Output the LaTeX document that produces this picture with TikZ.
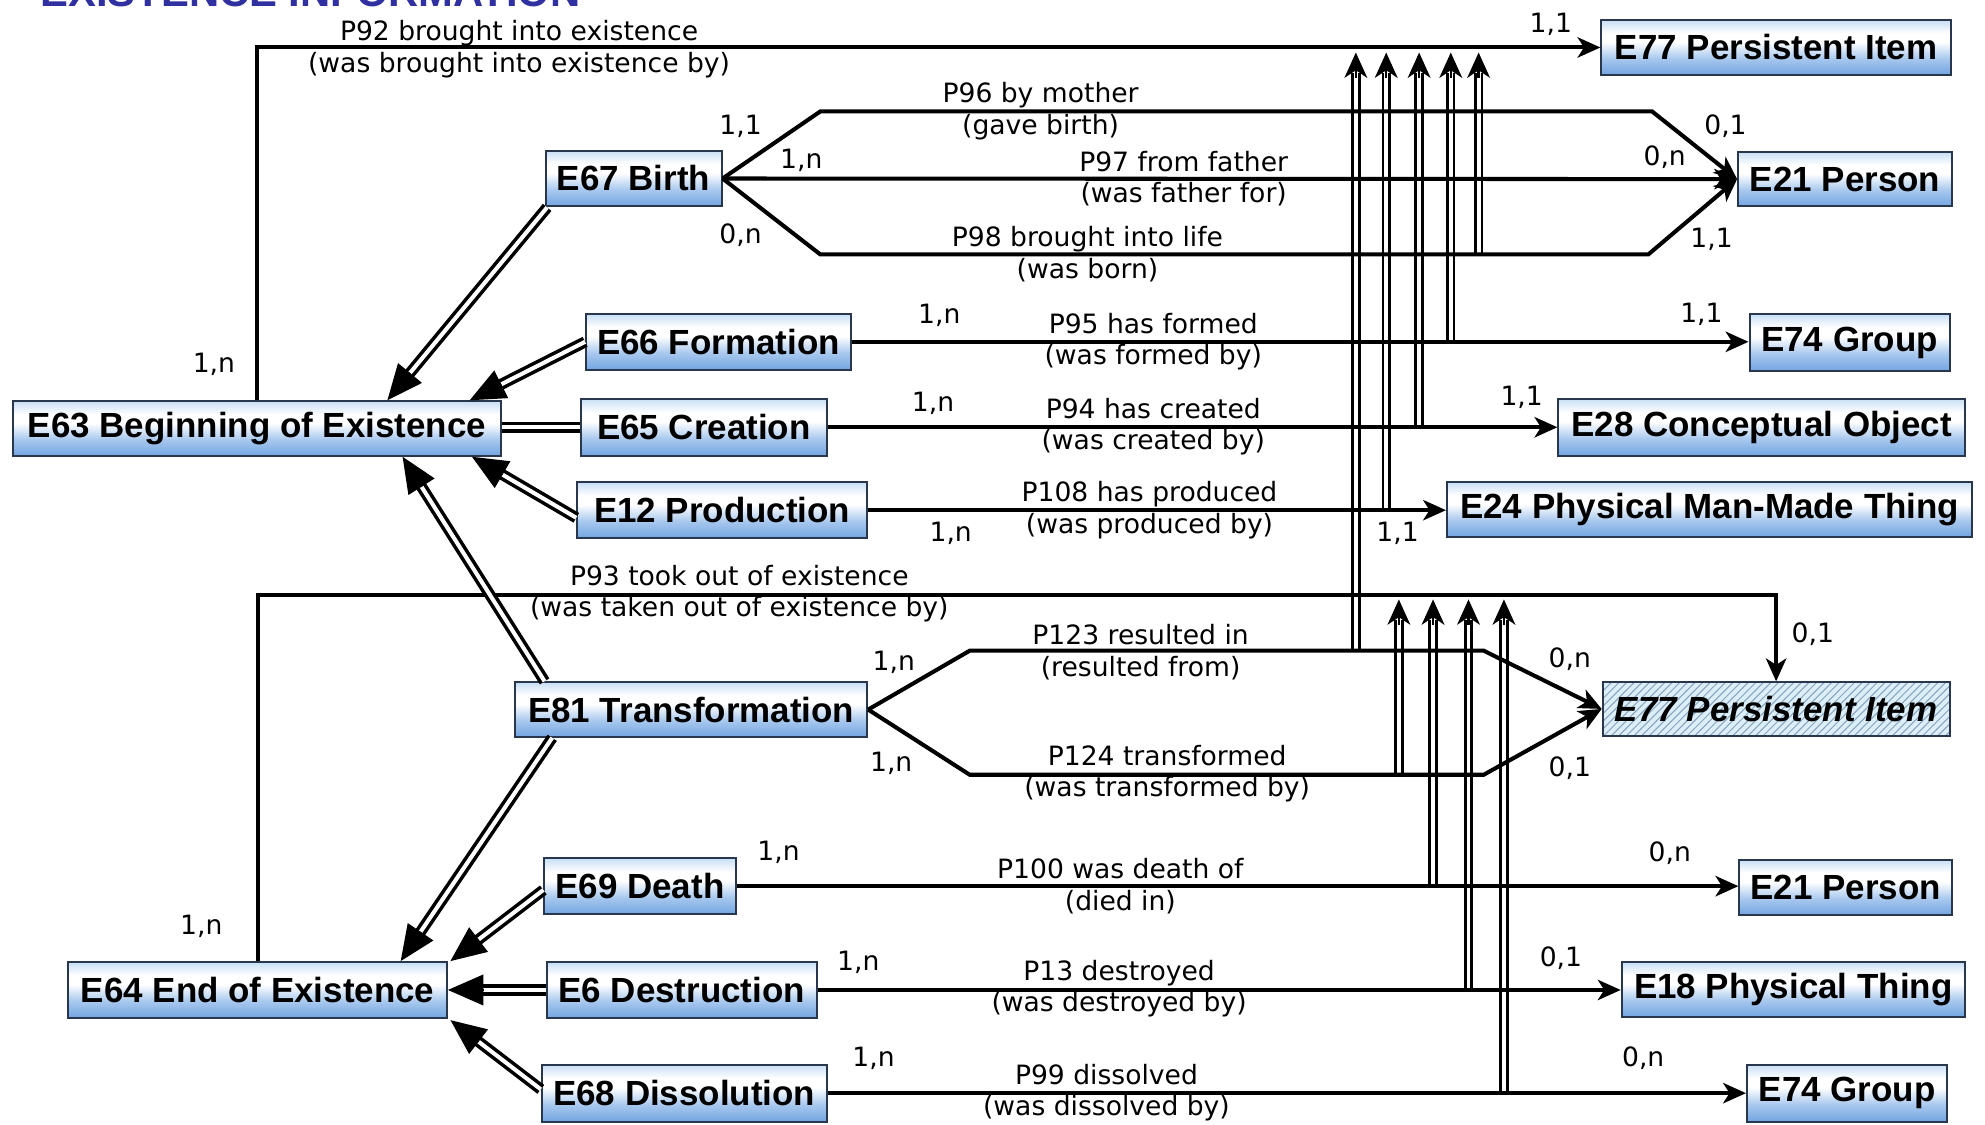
\documentclass[tikz,border=0pt]{standalone}
\usepackage{fontspec}
\setmainfont{Liberation Sans}
\newfontfamily\lblfont{DejaVu Sans}
\usetikzlibrary{arrows.meta,calc,patterns}
\definecolor{titleblue}{RGB}{48,48,160}
\definecolor{boxline}{RGB}{40,55,75}
\definecolor{bA}{RGB}{115,165,225}
\definecolor{bB}{RGB}{168,200,238}
\definecolor{bC}{RGB}{200,222,245}
\definecolor{hatchbg}{RGB}{220,238,248}
\definecolor{hatchln}{RGB}{135,165,190}
\pgfdeclareverticalshading{boxshade}{100bp}{color(0bp)=(bA); color(25bp)=(bA); color(40bp)=(bB); color(55bp)=(white); color(63bp)=(white); color(75bp)=(bC); color(100bp)=(bC)}
\begin{document}
\begin{tikzpicture}[x=0.5pt,y=-0.5pt,
  ent/.style={draw=boxline, line width=0.8pt, shading=boxshade, inner sep=0pt,
    font=\fontsize{13.8}{16}\selectfont\bfseries, text=black},
  enthatch/.style={draw=boxline, line width=0.8pt, preaction={fill=hatchbg},
    pattern=north east lines, pattern color=hatchln, inner sep=0pt,
    font=\fontsize{13.8}{16}\selectfont\bfseries\itshape, text=black},
  lbl/.style={font=\lblfont\fontsize{10.5}{12.5}\selectfont, align=center, inner sep=0pt},
  card/.style={font=\lblfont\fontsize{10.5}{12.5}\selectfont, inner sep=0pt},
  conn/.style={line width=1.6pt, -{Stealth[length=9pt,width=8pt,inset=2.5pt]}},
  subp/.style={double, double distance=1.5pt, line width=1.1pt, shorten >=8pt},
  subtip/.style={line width=1pt, -{Stealth[length=10pt,width=9pt,inset=3pt]}},
  inh/.style={double, double distance=1.6pt, line width=1.4pt, shorten >=12pt},
  inhplain/.style={double, double distance=1.6pt, line width=1.4pt},
  inhtip/.style={line width=1pt, -{Triangle[length=14pt,width=12pt]}}
]
\useasboundingbox (0,0) rectangle (1568,888);
\clip (0,0) rectangle (1568,888);
\fill[white] (0,0) rectangle (1568,888);

\node[anchor=base east, font=\fontsize{16.5}{18}\selectfont\bfseries, text=titleblue, inner sep=0pt] (title) at (459,5) {EXISTENCE INFORMATION};

% entity boxes
\node[ent, minimum width=138pt, minimum height=21.5pt] (e77a) at (1403,37.5) {E77 Persistent Item};
\node[ent, minimum width=69.5pt, minimum height=22pt] (e67) at (500.5,141) {E67 Birth};
\node[ent, minimum width=84.5pt, minimum height=21.5pt] (e21a) at (1457.5,141.5) {E21 Person};
\node[ent, minimum width=104.5pt, minimum height=22pt] (e66) at (567.5,270) {E66 Formation};
\node[ent, minimum width=79pt, minimum height=22.5pt] (e74a) at (1461,270.5) {E74 Group};
\node[ent, minimum width=193pt, minimum height=21.5pt] (e63) at (203,338.5) {E63 Beginning of Existence};
\node[ent, minimum width=97pt, minimum height=22.5pt] (e65) at (556,337.5) {E65 Creation};
\node[ent, minimum width=160.5pt, minimum height=22.5pt] (e28) at (1391.5,337.5) {E28 Conceptual Object};
\node[ent, minimum width=114.5pt, minimum height=22pt] (e12) at (570.5,403) {E12 Production};
\node[ent, minimum width=207.5pt, minimum height=21.5pt] (e24) at (1350.5,402.5) {E24 Physical Man-Made Thing};
\node[ent, minimum width=139pt, minimum height=21.5pt] (e81) at (546,560.5) {E81 Transformation};
\node[enthatch, minimum width=137pt, minimum height=21pt] (e77b) at (1403,560) {E77 Persistent Item};
\node[ent, minimum width=75.5pt, minimum height=22pt] (e69) at (505.5,700) {E69 Death};
\node[ent, minimum width=84pt, minimum height=22pt] (e21b) at (1458,701) {E21 Person};
\node[ent, minimum width=149.5pt, minimum height=22pt] (e64) at (203.5,782) {E64 End of Existence};
\node[ent, minimum width=106.5pt, minimum height=22pt] (e6) at (538.5,782) {E6 Destruction};
\node[ent, minimum width=135.5pt, minimum height=21.5pt] (e18) at (1416.5,781.5) {E18 Physical Thing};
\node[ent, minimum width=112.5pt, minimum height=22.5pt] (e68) at (540.5,863.5) {E68 Dissolution};
\node[ent, minimum width=79pt, minimum height=22.5pt] (e74b) at (1459,863.5) {E74 Group};

% bend points
\coordinate (b1) at (648,88);  \coordinate (b2) at (1305,88);
\coordinate (b3) at (648,201); \coordinate (b4) at (1302,201);
\coordinate (t1) at (766,514); \coordinate (t2) at (1172,514);
\coordinate (t3) at (766,612); \coordinate (t4) at (1172,612);
\coordinate (p93c) at (1403,470);

% sub-property arrows (ends)
\coordinate (s1-b) at (1071,514); \coordinate (s1-t) at (1071,41.5);
\coordinate (s2-b) at (1095,403); \coordinate (s2-t) at (1095,41.5);
\coordinate (s3-b) at (1121,337); \coordinate (s3-t) at (1121,41.5);
\coordinate (s4-b) at (1146,270); \coordinate (s4-t) at (1146,41.5);
\coordinate (s5-b) at (1168,201); \coordinate (s5-t) at (1168,41.5);
\coordinate (u1-b) at (1105,612); \coordinate (u1-t) at (1105,473.5);
\coordinate (u2-b) at (1132,700); \coordinate (u2-t) at (1132,473.5);
\coordinate (u3-b) at (1160,782); \coordinate (u3-t) at (1160,473.5);
\coordinate (u4-b) at (1188,863); \coordinate (u4-t) at (1188,473.5);

\foreach \n in {s1,s2,s3,s4,s5,u1,u2,u3,u4}{
  \draw[subp] (\n-b) -- (\n-t);
  \draw[subtip] ($(\n-t)!10pt!(\n-b)$) -- (\n-t);
}

% property connectors
\draw[conn] (e63.north) |- (e77a.west);
\draw[conn] (e67.east) -- (b1) -- (b2) -- (e21a.west);
\draw[conn] (e67.east) -- (e21a.west);
\draw[conn] (e67.east) -- (b3) -- (b4) -- (e21a.west);
\draw[conn] (e66.east) -- (e66.east -| e74a.west);
\draw[conn] (e65.east) -- (e65.east -| e28.west);
\draw[conn] (e12.east) -- (e12.east -| e24.west);
\draw[conn] (e64.north) |- (p93c) -- (e77b.north);
\draw[conn] (e81.east) -- (t1) -- (t2) -- (e77b.west);
\draw[conn] (e81.east) -- (t3) -- (t4) -- (e77b.west);
\draw[conn] (e69.east) -- (e69.east -| e21b.west);
\draw[conn] (e6.east) -- (e6.east -| e18.west);
\draw[conn] (e68.east) -- (e68.east -| e74b.west);

% inheritance arrows
\coordinate (i1s) at ($(e67.south west)+(2,0)$);   \coordinate (i1t) at ($(e63.north)+(103,0)$);
\coordinate (i2s) at (e66.west);                   \coordinate (i2t) at ($(e63.north)+(168,0)$);
\coordinate (i4s) at ($(e12.west)+(0,6)$);         \coordinate (i4t) at ($(e63.south east)+(-24,0)$);
\coordinate (i5s) at ($(e81.north west)+(24,0)$);  \coordinate (i5t) at ($(e63.south)+(115,0)$);
\coordinate (i6s) at ($(e81.south west)+(30,0)$);  \coordinate (i6t) at ($(e64.north)+(113,0)$);
\coordinate (i7s) at ($(e69.west)+(0,3)$);         \coordinate (i7t) at ($(e64.north east)+(2,0)$);
\coordinate (i8s) at (e6.west);                    \coordinate (i8t) at (e6.west -| e64.east);
\coordinate (i9s) at ($(e68.west)+(0,-3)$);        \coordinate (i9t) at ($(e64.south east)+(2,1)$);
\draw[inhplain] (e65.west) -- (e65.west -| e63.east);
\foreach \n in {i1,i2,i4,i5,i6,i7,i8,i9}{
  \draw[inh] (\n s) -- (\n t);
  \draw[inhtip] ($(\n t)!14pt!(\n s)$) -- (\n t);
}

% property labels
\node[lbl] (l92) at (410,39) {P92 brought into existence\\(was brought into existence by)};
\node[lbl] (l96) at (822,88) {P96 by mother\\(gave birth)};
\node[lbl] (l97) at (935,141) {P97 from father\\(was father for)};
\node[lbl] (l98) at (859,201) {P98 brought into life\\(was born)};
\node[lbl] (l95) at (911,270) {P95 has formed\\(was formed by)};
\node[lbl] (l94) at (911,337) {P94 has created\\(was created by)};
\node[lbl] (l108) at (908,403) {P108 has produced\\(was produced by)};
\node[lbl] (l93) at (584,469) {P93 took out of existence\\(was taken out of existence by)};
\node[lbl] (l123) at (901,515) {P123 resulted in\\(resulted from)};
\node[lbl] (l124) at (922,611) {P124 transformed\\(was transformed by)};
\node[lbl] (l100) at (885,700) {P100 was death of\\(died in)};
\node[lbl] (l13) at (884,781) {P13 destroyed\\(was destroyed by)};
\node[lbl] (l99) at (874,863) {P99 dissolved\\(was dissolved by)};

% cardinalities
\node[card] (c92a) at (169,288) {1,n};
\node[card] (c92b) at (1225,19) {1,1};
\node[card] (c96a) at (585,100) {1,1};
\node[card] (c96b) at (1363,100) {0,1};
\node[card] (c97a) at (633,127) {1,n};
\node[card] (c97b) at (1315,124) {0,n};
\node[card] (c98a) at (585,186) {0,n};
\node[card] (c98b) at (1352,189) {1,1};
\node[card] (c95a) at (742,249) {1,n};
\node[card] (c95b) at (1344,248) {1,1};
\node[card] (c94a) at (737,319) {1,n};
\node[card] (c94b) at (1202,314) {1,1};
\node[card] (c108a) at (751,421) {1,n};
\node[card] (c108b) at (1104,421) {1,1};
\node[card] (c93a) at (159,732) {1,n};
\node[card] (c93b) at (1432,501) {0,1};
\node[card] (c123a) at (706,523) {1,n};
\node[card] (c123b) at (1240,521) {0,n};
\node[card] (c124a) at (704,603) {1,n};
\node[card] (c124b) at (1240,607) {0,1};
\node[card] (c100a) at (615,673) {1,n};
\node[card] (c100b) at (1319,674) {0,n};
\node[card] (c13a) at (678,760) {1,n};
\node[card] (c13b) at (1233,757) {0,1};
\node[card] (c99a) at (690,836) {1,n};
\node[card] (c99b) at (1298,836) {0,n};
\end{tikzpicture}
\end{document}
